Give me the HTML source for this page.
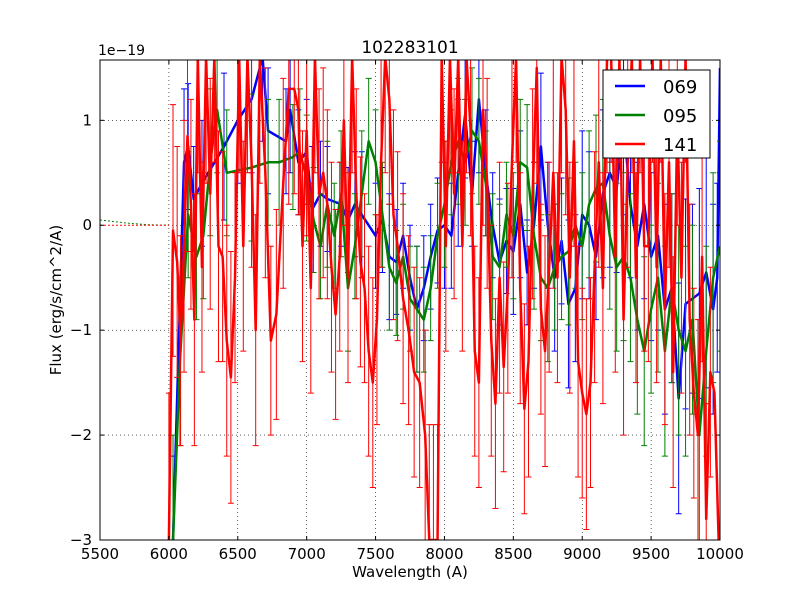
<!DOCTYPE html>
<html><head><meta charset="utf-8"><style>
html,body{margin:0;padding:0;background:#fff;width:800px;height:600px;overflow:hidden;}
svg{display:block;font-family:"DejaVu Sans","Liberation Sans",sans-serif;}
</style></head><body>
<svg id="chart" width="800" height="600" xmlns="http://www.w3.org/2000/svg">
<defs><clipPath id="clip"><rect x="100" y="60" width="620" height="480"/></clipPath></defs>
<rect width="800" height="600" fill="#fff"/>
<text x="410" y="53" text-anchor="middle" font-size="17">102283101</text>
<text x="98" y="55" font-size="14">1e−19</text>
<g id="grid"></g>
<g id="plot" clip-path="url(#clip)"></g>
<rect x="100" y="60" width="620" height="480" fill="none" stroke="#000" stroke-width="1"/>
<g id="ticks"></g>
<text x="410" y="577" text-anchor="middle" font-size="15">Wavelength (A)</text>
<text transform="translate(61,300) rotate(-90)" text-anchor="middle" font-size="15">Flux (erg/s/cm^2/A)</text>
<g>
<rect x="603" y="70" width="107" height="88" fill="#fff" stroke="#000"/>
<g><line x1="615" y1="86" x2="645" y2="86" stroke="#0000ff" stroke-width="2.5"/><text x="663" y="93" font-size="18">069</text></g>
<g><line x1="615" y1="115" x2="645" y2="115" stroke="#008000" stroke-width="2.5"/><text x="663" y="122" font-size="18">095</text></g>
<g><line x1="615" y1="144" x2="645" y2="144" stroke="#ff0000" stroke-width="2.5"/><text x="663" y="151" font-size="18">141</text></g>
</g>
</svg>
<script>
const xTicks=[5500,6000,6500,7000,7500,8000,8500,9000,9500,10000];
const yTicks=[-3,-2,-1,0,1];
const yTickLabels=["\u22123","\u22122","\u22121","0","1"];
const wl069=[6030,6110,6140,6180,6240,6400,6500,6600,6680,6720,6850,6880,6940,7000,7040,7100,7150,7250,7300,7350,7400,7500,7550,7600,7650,7700,7750,7800,7850,7900,7950,8000,8050,8100,8150,8200,8250,8300,8350,8400,8450,8500,8550,8600,8650,8700,8750,8800,8850,8900,8950,9000,9050,9100,9150,9200,9250,9300,9350,9400,9450,9500,9550,9600,9650,9700,9750,9800,9850,9900,9950,9980,10000];
const flux069=[-3.0,0.6,0.75,0.25,0.4,0.75,1.0,1.2,1.6,0.9,0.8,1.1,0.6,0.7,0.15,0.3,0.25,0.2,0.05,0.2,0.1,-0.1,0.05,-0.3,-0.35,-0.1,-0.5,-0.8,-0.6,-0.3,-0.05,0.0,-0.1,0.5,1.05,0.3,1.2,0.5,0.0,-0.35,-0.15,-0.25,0.2,-0.45,0.0,0.75,0.0,-0.5,-0.15,-0.75,-0.6,0.1,0.0,-0.3,0.3,0.5,0.35,1.0,0.2,-0.2,0.2,-0.3,-0.1,-0.8,-0.6,-1.65,-0.75,-0.7,-0.65,-0.45,-0.8,-0.5,1.5];
const err069=[0.8,0.7,0.6,0.5,0.6,0.7,0.6,0.7,0.8,0.6,0.5,0.6,0.5,0.5,0.6,0.5,0.5,0.4,0.5,0.5,0.6,0.5,0.5,0.6,0.5,0.5,0.5,0.6,0.5,0.5,0.5,0.6,0.5,0.7,0.6,0.5,0.7,0.6,0.5,0.6,0.5,0.6,0.7,0.5,0.6,0.7,0.6,0.7,0.6,0.8,0.7,0.8,0.7,0.6,0.8,0.9,0.8,0.9,0.7,0.8,0.9,0.8,0.9,1.0,0.9,1.1,1.0,0.9,1.0,1.1,1.0,0.9,1.0];
const wl095=[6030,6080,6140,6200,6250,6300,6350,6420,6600,6720,6800,6900,6950,7000,7050,7100,7150,7200,7250,7300,7350,7400,7450,7500,7550,7600,7650,7700,7750,7800,7850,7900,7950,8000,8050,8100,8150,8200,8250,8300,8350,8400,8450,8500,8550,8600,8650,8700,8750,8800,8850,8900,8950,9000,9050,9100,9150,9200,9250,9300,9350,9400,9450,9500,9550,9600,9650,9700,9750,9800,9850,9900,9950,10000];
const flux095=[-3.0,-1.3,0.1,-0.3,-0.1,0.6,1.1,0.5,0.55,0.6,0.6,0.65,0.7,0.45,0.05,-0.2,0.2,-0.1,0.3,-0.6,-0.2,0.3,0.8,0.6,0.1,-0.4,-0.55,-0.3,-0.7,-0.8,-0.9,-0.6,-0.1,0.2,0.6,0.8,0.6,0.9,0.8,0.4,-0.3,-0.4,0.1,-0.1,0.6,0.55,-0.1,-0.5,-0.6,-0.4,-0.3,-0.25,0.0,-0.2,0.2,0.35,0.4,-0.1,-0.4,-0.3,-0.5,-0.9,-1.2,-0.8,-0.5,-1.2,-0.6,-1.0,-1.2,-0.9,-2.0,-1.2,-0.5,-0.2];
const err095=[1.0,0.8,0.6,0.6,0.6,0.7,0.6,0.6,0.7,0.6,0.6,0.5,0.6,0.6,0.5,0.5,0.6,0.5,0.6,0.6,0.5,0.6,0.6,0.5,0.5,0.6,0.5,0.5,0.5,0.6,0.5,0.5,0.5,0.6,0.5,0.6,0.6,0.6,0.6,0.5,0.6,0.6,0.5,0.6,0.6,0.6,0.7,0.6,0.7,0.6,0.6,0.7,0.6,0.7,0.7,0.7,0.8,0.7,0.8,0.8,0.8,0.9,0.9,0.8,0.9,1.0,0.9,1.0,1.0,0.9,1.1,1.0,1.0,1.0];
const wl141=[6000,6030,6060,6085,6110,6135,6160,6185,6210,6240,6270,6300,6330,6360,6390,6420,6450,6480,6510,6540,6570,6600,6630,6660,6700,6740,6780,6830,6870,6910,6940,6970,7000,7030,7060,7090,7120,7150,7180,7210,7240,7270,7300,7330,7360,7390,7420,7450,7480,7510,7540,7570,7600,7630,7660,7700,7740,7780,7820,7860,7890,7920,7950,7980,8010,8040,8070,8100,8130,8160,8190,8220,8250,8280,8310,8340,8370,8400,8430,8460,8490,8520,8550,8580,8610,8640,8670,8700,8730,8760,8790,8820,8850,8880,8910,8940,8970,9000,9030,9060,9090,9120,9150,9180,9210,9240,9270,9300,9330,9360,9390,9420,9450,9480,9510,9540,9570,9600,9630,9660,9690,9720,9750,9780,9810,9840,9870,9900,9930,9960,9990];
const flux141=[-3.0,-0.05,-0.35,-1.1,-0.2,0.85,0.2,-0.9,1.6,-0.4,1.6,0.3,1.6,-0.2,-0.3,-1.1,-1.45,-0.5,1.6,-0.2,1.6,0.6,-1.0,1.6,0.5,-1.1,-0.85,0.4,1.3,1.3,1.1,-0.2,0.9,-0.6,1.6,0.3,0.5,0.2,-0.4,-0.85,-0.3,1.0,-0.5,1.6,0.3,-0.35,-0.6,-1.2,-1.5,-0.9,0.6,1.6,1.2,0.1,-0.2,-0.7,-1.0,-1.4,-1.5,-2.0,-3.0,-3.0,-3.0,1.6,-0.2,1.6,0.3,1.6,-0.2,1.6,0.9,-1.2,-1.5,1.1,0.4,-1.1,-1.7,-0.5,-1.35,-0.6,0.6,1.6,-0.6,-1.75,-1.3,0.3,1.5,-0.8,-1.2,-0.4,0.5,-0.5,1.6,1.1,-0.5,0.8,-1.3,-1.6,-1.8,-1.5,-0.4,0.6,-0.6,1.6,1.6,-0.3,1.6,-0.9,0.6,1.6,-0.5,1.6,-0.2,-0.2,1.6,-0.4,1.6,-0.8,0.6,-1.4,1.0,-0.5,1.6,-0.9,-1.6,-2.0,-0.3,-2.8,-1.4,-1.6,-3.0];
const err141=[1.4,1.2,1.1,1.0,1.2,1.1,1.0,1.2,1.1,1.0,1.2,1.1,1.0,1.1,1.0,1.1,1.2,1.0,1.1,1.0,1.1,1.0,1.1,1.2,1.0,0.9,1.0,1.0,1.1,1.0,1.0,1.1,1.0,1.0,1.1,1.0,1.0,0.9,1.0,1.0,0.9,1.0,1.0,1.1,1.0,1.0,0.9,1.0,1.0,1.0,1.0,1.1,1.0,1.0,0.9,1.0,0.9,1.0,1.0,1.0,1.1,1.1,1.1,1.0,1.0,1.1,1.0,1.1,1.0,1.1,1.0,1.0,1.0,1.1,1.0,1.1,1.0,1.1,1.0,1.0,1.1,1.0,1.1,1.0,1.1,1.0,1.1,1.0,1.1,1.0,1.1,1.0,1.1,1.0,1.1,1.0,1.1,1.0,1.1,1.0,1.1,1.0,1.1,1.1,1.0,1.1,1.0,1.1,1.0,1.1,1.0,1.1,1.0,1.1,1.0,1.1,1.0,1.1,1.0,1.1,1.0,1.1,1.0,1.1,1.0,1.1,1.0,1.1,1.0];
const wlLead=[5500,5700,5850,6000];
const fluxLeadG=[0.05,0.02,0.005,0.0];
const fluxLeadR=[0.0,0.0,0.0,0.0];

const NS="http://www.w3.org/2000/svg";
const X0=100,X1=720,Y0=60,Y1=540,XMIN=5500,XMAX=10000,YMIN=-3,YMAX=1.575;
function sx(v){return X0+(v-XMIN)/(XMAX-XMIN)*(X1-X0);}
function sy(v){return Y1-(v-YMIN)/(YMAX-YMIN)*(Y1-Y0);}
function clampY(y){return Math.max(Y0-5,Math.min(Y1+5,y));}
function mk(tag,attrs,parent){const e=document.createElementNS(NS,tag);for(const k in attrs)e.setAttribute(k,attrs[k]);parent.appendChild(e);return e;}
const grid=document.getElementById('grid'),plot=document.getElementById('plot'),ticks=document.getElementById('ticks');
xTicks.forEach(t=>{
  const x=sx(t);
  const g=mk('line',{x1:x,x2:x,y1:Y0,y2:Y1,stroke:'#000','stroke-width':0.6,'stroke-dasharray':'1,3'},grid);
  
  
  mk('line',{x1:x,x2:x,y1:Y1,y2:Y1-4,stroke:'#000'},ticks);
  mk('line',{x1:x,x2:x,y1:Y0,y2:Y0+4,stroke:'#000'},ticks);
  const l=mk('text',{x:x,y:Y1+19,'text-anchor':'middle','font-size':15},ticks);
  l.textContent=t;
  
  
});
yTicks.forEach((t,i)=>{
  const y=sy(t);
  const g=mk('line',{x1:X0,x2:X1,y1:y,y2:y,stroke:'#000','stroke-width':0.6,'stroke-dasharray':'1,3'},grid);
  
  
  mk('line',{x1:X0,x2:X0+4,y1:y,y2:y,stroke:'#000'},ticks);
  mk('line',{x1:X1,x2:X1-4,y1:y,y2:y,stroke:'#000'},ticks);
  const l=mk('text',{x:X0-8,y:y+5,'text-anchor':'end','font-size':15},ticks);
  l.textContent=yTickLabels[i];
  
  
});
function lead(vals,color){
  const p=mk('polyline',{points:wlLead.map((w,i)=>sx(w)+','+sy(vals[i])).join(' '),fill:'none',stroke:color,'stroke-width':1,'stroke-dasharray':'2,2'},plot);
  
  
}
lead(fluxLeadG,'#008000');lead(fluxLeadR,'#ff0000');
function series(wl,fl,er,color,name){
  const g=mk('g',{},plot);
  
  
  wl.forEach((w,i)=>{
    const x=sx(w),ra=sy(fl[i]+er[i]),rb=sy(fl[i]-er[i]);
    const a=clampY(ra),b=clampY(rb);
    let d=`M${x},${a}V${b}`;
    if(a===ra)d+=`M${x-3},${a}h6`;
    if(b===rb)d+=`M${x-3},${b}h6`;
    const e=mk('path',{d:d,stroke:color,'stroke-width':1,fill:'none'},g);
    
    
  });
  const l=mk('polyline',{points:wl.map((w,i)=>sx(w)+','+clampY(sy(fl[i]))).join(' '),fill:'none',stroke:color,'stroke-width':2.5,'stroke-linejoin':'round'},g);
  
  
}
series(wl069,flux069,err069,'#0000ff','069');
series(wl095,flux095,err095,'#008000','095');
series(wl141,flux141,err141,'#ff0000','141');
</script>
</body></html>
